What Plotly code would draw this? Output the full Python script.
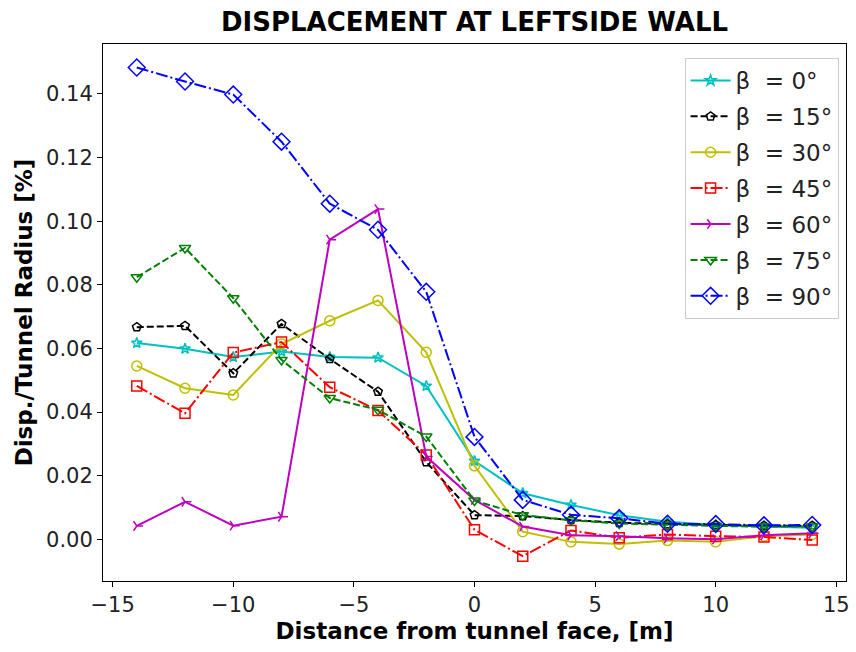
import plotly.graph_objects as go

x = [-14, -12, -10, -8, -6, -4, -2, 0, 2, 4, 6, 8, 10, 12, 14]

b0 = [0.0617, 0.0599, 0.0573, 0.0590, 0.0573, 0.0571, 0.0482, 0.0246, 0.0145, 0.0108, 0.0076, 0.0055, 0.0045, 0.0040, 0.0036]
b15 = [0.0667, 0.0671, 0.0522, 0.0677, 0.0567, 0.0464, 0.0243, 0.0076, 0.0073, 0.0061, 0.0052, 0.0048, 0.0045, 0.0043, 0.0043]
b30 = [0.0545, 0.0475, 0.0454, 0.0614, 0.0687, 0.0751, 0.0588, 0.0231, 0.0024, -0.0008, -0.0015, -0.0004, -0.0008, 0.0010, 0.0015]
b45 = [0.0482, 0.0396, 0.0587, 0.0620, 0.0478, 0.0405, 0.0265, 0.0030, -0.0053, 0.0028, 0.0005, 0.0015, 0.0010, 0.0007, -0.0002]
b60 = [0.0042, 0.0118, 0.0043, 0.0071, 0.0942, 0.1038, 0.0260, 0.0124, 0.0040, 0.0013, 0.0010, 0.0003, 0.0000, 0.0013, 0.0019]
b75 = [0.0824, 0.0916, 0.0758, 0.0564, 0.0444, 0.0407, 0.0323, 0.0122, 0.0076, 0.0060, 0.0050, 0.0045, 0.0042, 0.0040, 0.0040]
b90 = [0.1483, 0.1439, 0.1398, 0.1250, 0.1055, 0.0973, 0.0778, 0.0322, 0.0124, 0.0077, 0.0066, 0.0049, 0.0048, 0.0044, 0.0045]

labels = ["\u03b2\u00a0\u00a0= 0°", "\u03b2\u00a0\u00a0= 15°", "\u03b2\u00a0\u00a0= 30°", "\u03b2\u00a0\u00a0= 45°",
          "\u03b2\u00a0\u00a0= 60°", "\u03b2\u00a0\u00a0= 75°", "\u03b2\u00a0\u00a0= 90°"]

DASH = "7px,3px"
DASHDOT = "12px,3px,2px,3px"

series = [
    (b0, labels[0], "#00bfbf", "solid", "star-open", 8),
    (b15, labels[1], "#000000", DASH, "pentagon-open", 9),
    (b30, labels[2], "#bfbf00", "solid", "circle-open", 10),
    (b45, labels[3], "#ff0000", DASHDOT, "square-open", 10),
    (b60, labels[4], "#bf00bf", "solid", "y-right-open", 8),
    (b75, labels[5], "#008000", DASH, "triangle-down-open", 10),
    (b90, labels[6], "#0000ff", DASHDOT, "diamond-open", 13),
]

fig = go.Figure()
for i, (ys, name, color, dash, sym, size) in enumerate(series):
    fig.add_trace(go.Scatter(
        x=x, y=ys, name=name, mode="lines+markers", legendgroup=f"g{i}",
        line=dict(color=color, width=2, dash=dash),
        marker=dict(symbol=sym, size=size, color=color, line=dict(color=color, width=1.5)),
    ))

axis_common = dict(
    showline=True, mirror=True, linecolor="black", linewidth=1,
    ticks="outside", ticklen=5, tickwidth=1, tickcolor="black",
    showgrid=False, zeroline=False,
    tickfont=dict(family="DejaVu Sans", size=21, color="#222"),
)

fig.update_layout(
    width=856, height=652,
    margin=dict(l=103, r=6, t=44, b=71),
    paper_bgcolor="white", plot_bgcolor="white",
    title=dict(text="<b>DISPLACEMENT AT LEFTSIDE WALL</b>", x=0.5, xref="paper", xanchor="center",
               y=0.966, yref="container", yanchor="middle",
               font=dict(family="DejaVu Sans", size=26, color="black")),
    xaxis=dict(range=[-15.4, 15.4], tickvals=[-15, -10, -5, 0, 5, 10, 15],
               ticktext=["\u221215", "\u221210", "\u22125", "0", "5", "10", "15"],
               title=dict(text="<b>Distance from tunnel face, [m]</b>", standoff=6,
                          font=dict(family="DejaVu Sans", size=23, color="black")),
               **axis_common),
    yaxis=dict(range=[-0.0131, 0.1557], tickvals=[0, 0.02, 0.04, 0.06, 0.08, 0.10, 0.12, 0.14],
               tickformat=".2f",
               title=dict(text="<b>Disp./Tunnel Radius [%]</b>", standoff=6,
                          font=dict(family="DejaVu Sans", size=23, color="black")),
               **axis_common),
    legend=dict(x=0.99, y=0.974, xanchor="right", yanchor="top",
                bgcolor="rgba(255,255,255,0.8)", bordercolor="#cccccc", borderwidth=1,
                font=dict(family="DejaVu Sans", size=23, color="#222"),
                itemwidth=40, tracegroupgap=3),
    showlegend=True,
)

fig.write_html("out.html")
